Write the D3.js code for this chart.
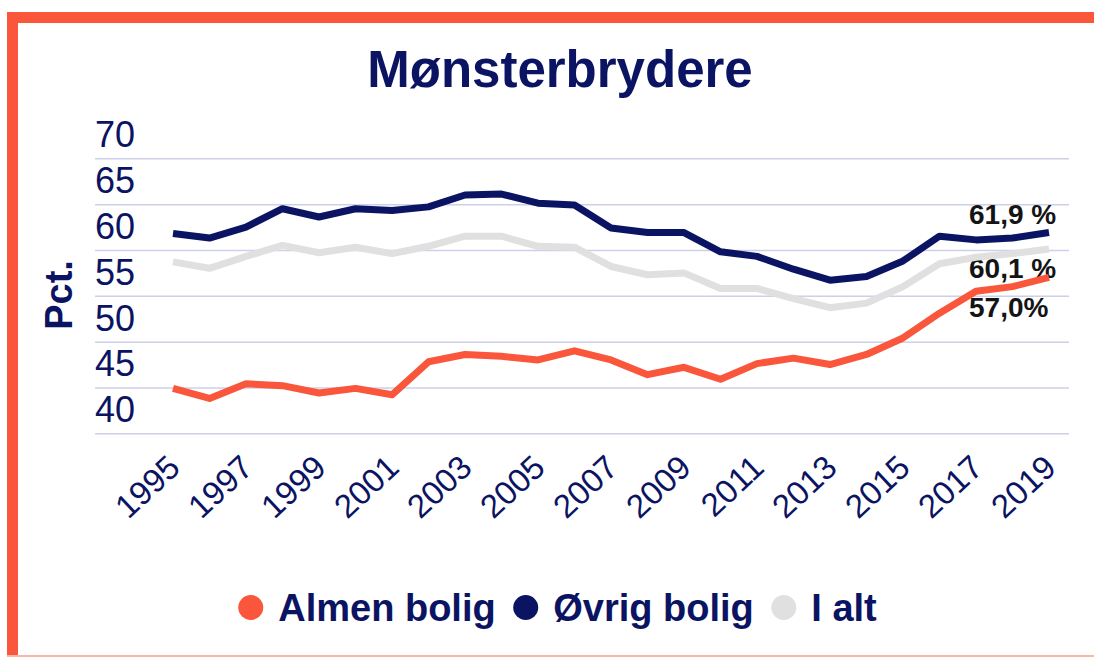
<!DOCTYPE html>
<html lang="da">
<head>
    <meta charset="UTF-8">
    <title>Mønsterbrydere</title>
    <script src="https://d3js.org/d3.v7.min.js"></script>
    <style>
        body { margin: 0; background: #fff; }
        svg { display: block; font-family: "Liberation Sans", Arial, sans-serif; }
    </style>
</head>
<body>
    <svg id="chart" width="1094" height="659"></svg>

    <script>
        const years = d3.range(1995, 2020);
        const tickYears = [1995, 1997, 1999, 2001, 2003, 2005, 2007, 2009, 2011, 2013, 2015, 2017, 2019];
        const yTicks = [40, 45, 50, 55, 60, 65, 70];

        const almenBolig = [44.9, 43.8, 45.4, 45.2, 44.4, 44.9, 44.2, 47.8, 48.6, 48.4, 48.0, 49.0, 48.0,
                            46.4, 47.2, 45.9, 47.6, 48.2, 47.5, 48.6, 50.4, 53.1, 55.5, 56.0, 57.0];
        const oevrigBolig = [61.8, 61.3, 62.5, 64.5, 63.6, 64.5, 64.3, 64.7, 66.0, 66.1, 65.1, 64.9, 62.4,
                             61.9, 61.9, 59.8, 59.3, 57.9, 56.7, 57.1, 58.8, 61.5, 61.1, 61.3, 61.9];
        const iAlt = [58.7, 58.0, 59.3, 60.5, 59.7, 60.3, 59.6, 60.4, 61.5, 61.5, 60.4, 60.3, 58.2,
                      57.3, 57.5, 55.8, 55.8, 54.7, 53.7, 54.2, 56.0, 58.5, 59.2, 59.6, 60.1];

        const seriesNames = ['Almen bolig', 'Øvrig bolig', 'I alt'];
        const endLabels = ['57,0%', '61,9 %', '60,1 %'];

        const orange = '#f9563b';
        const navy = '#0b1462';
        const grey = '#e0e0e0';

        const svg = d3.select('#chart');

        // orange frame
        svg.append('rect').attr('x', 7).attr('y', 12).attr('width', 1087).attr('height', 11).attr('fill', orange);
        svg.append('rect').attr('x', 7).attr('y', 12).attr('width', 11).attr('height', 644).attr('fill', orange);
        svg.append('line').attr('x1', 7).attr('x2', 1094).attr('y1', 656).attr('y2', 656)
            .attr('stroke', '#fcb6a7').attr('stroke-width', 2);

        svg.append('text')
            .attr('x', 560).attr('y', 87)
            .attr('text-anchor', 'middle')
            .attr('font-size', 51).attr('font-weight', 'bold')
            .attr('fill', navy)
            .text('Mønsterbrydere');

        const x = d3.scalePoint().domain(years).range([173, 1049]);
        const y = d3.scaleLinear().domain([40, 70]).range([433.3, 158.3]);

        // gridlines with the tick labels sitting above them
        const yAxis = svg.append('g')
            .attr('transform', 'translate(95,0)')
            .call(d3.axisRight(y).tickValues(yTicks).tickSize(974).tickFormat(d => d));
        yAxis.select('.domain').remove();
        yAxis.selectAll('.tick line').attr('stroke', '#cdd0e8').attr('stroke-width', 1.5);
        yAxis.selectAll('.tick text')
            .attr('x', 0).attr('y', 0).attr('dy', -11.5)
            .attr('text-anchor', 'start')
            .attr('font-size', 36)
            .attr('font-family', '"Liberation Sans", Arial, sans-serif')
            .attr('fill', navy);

        svg.append('text')
            .attr('transform', 'translate(72,295) rotate(-90)')
            .attr('text-anchor', 'middle')
            .attr('font-size', 38).attr('font-weight', 'bold')
            .attr('fill', navy)
            .text('Pct.');

        // slanted year labels
        svg.append('g').selectAll('text')
            .data(tickYears)
            .join('text')
            .attr('transform', d => `translate(${x(d) + 9},470) rotate(-43)`)
            .attr('text-anchor', 'end')
            .attr('font-size', 33)
            .attr('fill', navy)
            .text(d => d);

        const labelOffsets = [40, -8.5, 29];
        const lastVals = [almenBolig[24], oevrigBolig[24], iAlt[24]];
        svg.append('g').selectAll('text')
            .data(endLabels)
            .join('text')
            .attr('x', 969)
            .attr('y', (d, i) => y(lastVals[i]) + labelOffsets[i])
            .attr('font-size', 28).attr('font-weight', 'bold')
            .attr('fill', '#141414')
            .text(d => d);

        const line = d3.line()
            .x((d, i) => x(years[i]))
            .y(d => y(d));

        const drawOrder = [[iAlt, grey], [oevrigBolig, navy], [almenBolig, orange]];
        drawOrder.forEach(([vals, col]) => {
            svg.append('path')
                .datum(vals)
                .attr('d', line)
                .attr('fill', 'none')
                .attr('stroke', col)
                .attr('stroke-width', 7)
                .attr('stroke-linejoin', 'round');
        });

        // legend
        const legend = svg.append('g');
        const colors = [orange, navy, grey];
        let cx = 0;
        seriesNames.forEach((name, i) => {
            legend.append('circle').attr('cx', cx + 12.5).attr('cy', 0).attr('r', 12.5).attr('fill', colors[i]);
            const t = legend.append('text')
                .attr('x', cx + 40).attr('y', 13)
                .attr('font-size', 38).attr('font-weight', 'bold')
                .attr('fill', navy)
                .text(name);
            cx += 40 + t.node().getComputedTextLength() + 17.5;
        });
        const legendWidth = cx - 17.5;
        legend.attr('transform', `translate(${557.5 - legendWidth / 2},607.5)`);
    </script>
</body>
</html>
